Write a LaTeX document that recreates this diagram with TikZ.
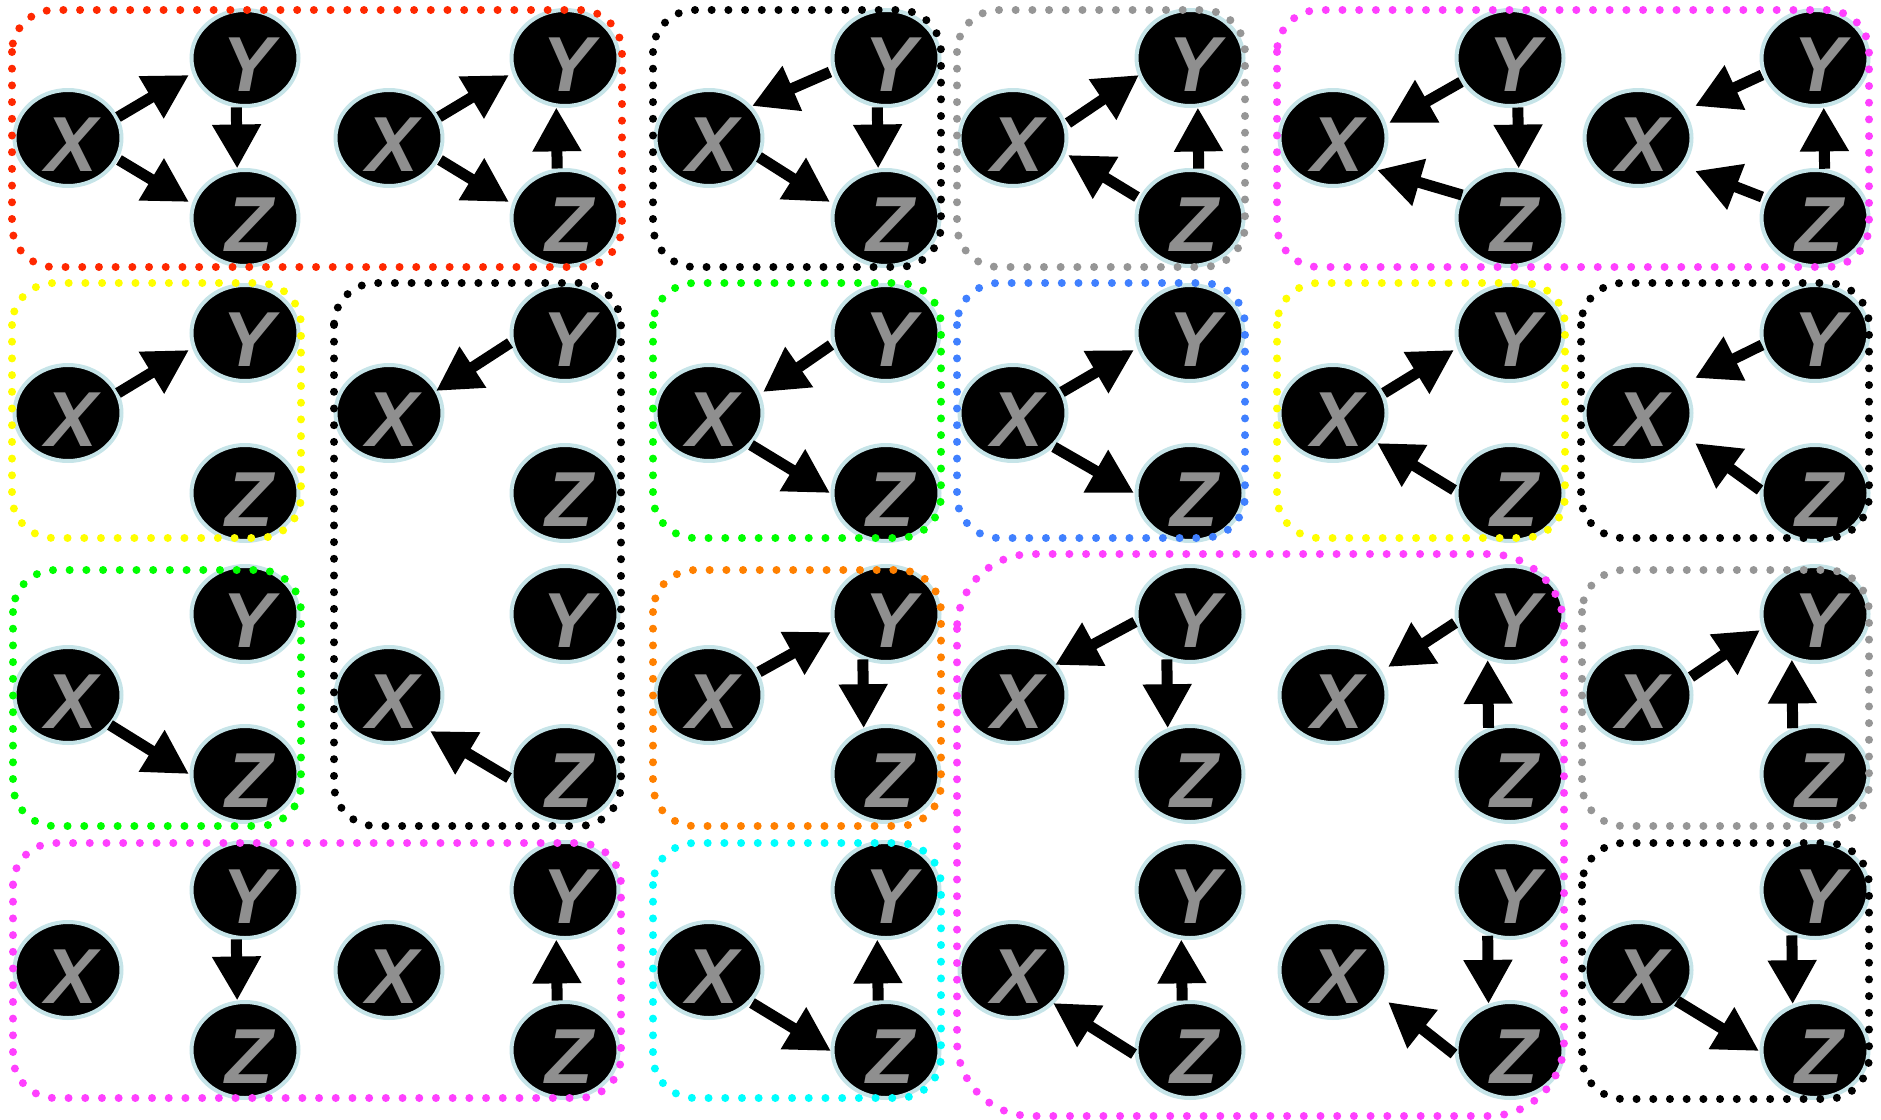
\documentclass[tikz,border=0pt]{standalone}
\usepackage{fontspec}
\setmainfont{Liberation Sans}
\usetikzlibrary{arrows.meta,shapes.geometric}
\definecolor{nodeborder}{RGB}{198,228,232}
\definecolor{lettergray}{RGB}{143,143,143}
\definecolor{bred}{RGB}{255,40,0}
\definecolor{bblack}{RGB}{0,0,0}
\definecolor{bgray}{RGB}{150,150,150}
\definecolor{bmagenta}{RGB}{255,64,255}
\definecolor{byellow}{RGB}{255,255,0}
\definecolor{bgreen}{RGB}{0,255,0}
\definecolor{bblue}{RGB}{64,128,255}
\definecolor{borange}{RGB}{255,128,0}
\definecolor{bcyan}{RGB}{0,255,255}
\tikzset{
  var/.style={ellipse, fill=black, draw=nodeborder, line width=4pt,
    minimum width=107pt, minimum height=96pt, inner sep=0pt,
    text=lettergray, font=\fontsize{78}{78}\selectfont\bfseries\itshape,
    text height=66pt, text depth=0pt},
  arr/.style={line width=11pt, -{Triangle[length=44pt,width=46pt]}},
  grp/.style={line width=8pt, dash pattern=on 0pt off 16.7pt, line cap=round, rounded corners=42pt},
}
\newcommand\lt[1]{\makebox[0pt]{\hspace{8pt}#1}}
\newcommand\triple[6]{%
  \node[var] (#1x) at (#2,#5) {\lt{X}};
  \node[var] (#1y) at (#3,#4) {\lt{Y}};
  \node[var] (#1z) at (#3,#6) {\lt{Z}};
}
\newcommand\edge[4]{\draw[arr] ([shift={#2}]#1.center) -- ([shift={#4}]#3.center);}
\begin{document}
\begin{tikzpicture}[x=1pt,y=-1pt]
\useasboundingbox (0,0) rectangle (1881,1119);
% row 1
\triple{a}{68}{245}{58}{138}{218}
\triple{b}{389}{565}{58}{138}{218}
\triple{c}{709}{886}{58}{138}{218}
\triple{d}{1013}{1190}{58}{138}{218}
\triple{e}{1333}{1510}{58}{138}{218}
\triple{f}{1638}{1815}{58}{138}{218}
% row 2
\triple{g}{68}{245}{333}{413}{493}
\triple{h}{389}{565}{333}{413}{493}
\triple{i}{709}{886}{333}{413}{493}
\triple{j}{1013}{1190}{333}{413}{493}
\triple{k}{1333}{1510}{333}{413}{493}
\triple{l}{1638}{1815}{333}{413}{493}
% row 3
\triple{m}{68}{245}{614}{695}{774}
\triple{n}{389}{565}{614}{695}{774}
\triple{o}{709}{886}{614}{695}{774}
\triple{p}{1013}{1190}{614}{695}{774}
\triple{q}{1333}{1510}{614}{695}{774}
\triple{r}{1638}{1815}{614}{695}{774}
% row 4
\triple{s}{68}{245}{890}{970}{1050}
\triple{t}{389}{565}{890}{970}{1050}
\triple{u}{709}{886}{890}{970}{1050}
\triple{v}{1013}{1190}{890}{970}{1050}
\triple{w}{1333}{1510}{890}{970}{1050}
\triple{z}{1638}{1815}{890}{970}{1050}
% edges row 1
\edge{ax}{(50,-21)}{ay}{(-56,17)} \edge{ax}{(51,22)}{az}{(-56,-16)}
\draw[arr] (ay.260.8) -- (az.99.2);
\edge{bx}{(50,-21)}{by}{(-56,17)} \edge{bx}{(51,22)}{bz}{(-56,-16)}
\draw[arr] (bz.99.2) -- (by.260.8);
\edge{cy}{(-56,14)}{cx}{(43,-32)} \edge{cx}{(50,19)}{cz}{(-56,-16)}
\draw[arr] (cy.260.8) -- (cz.99.2);
\edge{dx}{(55,-15)}{dy}{(-51,17)} \edge{dz}{(-53,-21)}{dx}{(55,17)}
\draw[arr] (dz.80.8) -- (dy.279.2);
\edge{ey}{(-49,24)}{ex}{(56,-15)} \edge{ez}{(-48,-23)}{ex}{(44,32)}
\draw[arr] (ey.279.2) -- (ez.80.8);
\edge{fy}{(-53,17)}{fx}{(57,-32)} \edge{fz}{(-53,-21)}{fx}{(57,33)}
\draw[arr] (fz.79.7) -- (fy.280.3);
% edges row 2
\edge{gx}{(50,-20)}{gy}{(-56,17)}
\edge{hy}{(-55,10)}{hx}{(47,-22)}
\edge{iy}{(-55,12)}{ix}{(54,-21)} \edge{ix}{(42,32)}{iz}{(-56,0)}
\edge{jx}{(49,-21)}{jy}{(-56,17)} \edge{jx}{(41,34)}{jz}{(-56,0)}
\edge{kx}{(51,-20)}{ky}{(-56,17)} \edge{kz}{(-56,-3)}{kx}{(44,30)}
\edge{ly}{(-53,12)}{lx}{(57,-35)} \edge{lz}{(-55,-3)}{lx}{(57,30)}
% edges row 3
\edge{mx}{(42,30)}{mz}{(-56,0)}
\edge{nz}{(-56,4)}{nx}{(41,36)}
\edge{ox}{(50,-23)}{oy}{(-55,18)} \draw[arr] (oy.243.2) -- (oz.116.8);
\edge{py}{(-55,8)}{px}{(42,-30)} \draw[arr] (py.243.2) -- (pz.116.8);
\edge{qy}{(-55,9)}{qx}{(55,-28)} \draw[arr] (qz.115.6) -- (qy.244.4);
\edge{rx}{(53,-18)}{ry}{(-55,16)} \draw[arr] (rz.116.8) -- (ry.243.2);
% edges row 4
\draw[arr] (sy.260.8) -- (sz.99.2);
\draw[arr] (tz.99.2) -- (ty.260.8);
\edge{ux}{(43,33)}{uz}{(-55,1)} \draw[arr] (uz.99.2) -- (uy.260.8);
\edge{vz}{(-56,4)}{vx}{(40,33)} \draw[arr] (vz.99.2) -- (vy.260.8);
\edge{wz}{(-56,4)}{wx}{(55,32)} \draw[arr] (wy.244.4) -- (wz.115.6);
\edge{zx}{(39,31)}{zz}{(-56,1)} \draw[arr] (zy.243.2) -- (zz.116.8);
% group boxes
\draw[grp, bred] (12,10) rectangle (622,267);
\draw[grp, bblack] (653,10) rectangle (941,267);
\draw[grp, bgray] (957,10) rectangle (1245,267);
\draw[grp, bmagenta] (1277,10) rectangle (1869,267);
\draw[grp, byellow] (12,283) rectangle (301,538);
\draw[grp, bblack] (334,283) rectangle (621,826);
\draw[grp, bgreen] (653,283) rectangle (941,538);
\draw[grp, bblue] (957,283) rectangle (1245,538);
\draw[grp, byellow] (1277,283) rectangle (1565,538);
\draw[grp, bblack] (1581,283) rectangle (1869,538);
\draw[grp, bgreen] (13,570) rectangle (301,826);
\draw[grp, borange] (653,570) rectangle (941,826);
\draw[grp, bmagenta, rounded corners=75pt] (957,554) rectangle (1564,1116);
\draw[grp, bgray] (1582,570) rectangle (1869,826);
\draw[grp, bmagenta] (13,843) rectangle (621,1098);
\draw[grp, bcyan] (653,843) rectangle (941,1098);
\draw[grp, bblack] (1582,843) rectangle (1869,1099);
\end{tikzpicture}
\end{document}
